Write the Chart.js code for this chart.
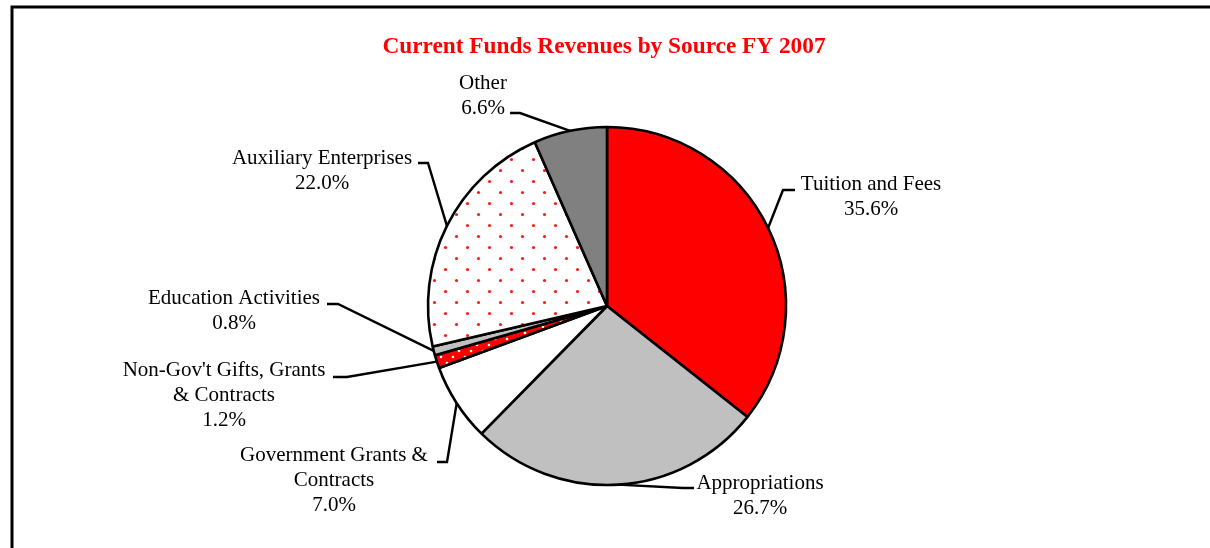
<!DOCTYPE html>
<html>
<head>
<meta charset="utf-8">
<title>Current Funds Revenues by Source FY 2007</title>
<script src="https://cdn.jsdelivr.net/npm/chart.js@4.4.0/dist/chart.umd.min.js"></script>
<style>
  html, body { margin: 0; padding: 0; background: #fff; }
  #wrap { width: 1210px; height: 548px; }
</style>
</head>
<body>
<div id="wrap"><canvas id="myChart" width="1210" height="548"></canvas></div>
<script>
const chartTitle = "Current Funds Revenues by Source FY 2007";

const sources = [
    "Tuition and Fees",
    "Appropriations",
    "Government Grants & Contracts",
    "Non-Gov't Gifts, Grants & Contracts",
    "Education Activities",
    "Auxiliary Enterprises",
    "Other",
];
const shares = [35.6, 26.7, 7.0, 1.2, 0.8, 22.0, 6.6];

// how each source name is wrapped in its label
const labelLines = [
    ["Tuition and Fees"],
    ["Appropriations"],
    ["Government Grants &", "Contracts"],
    ["Non-Gov't Gifts, Grants", "& Contracts"],
    ["Education Activities"],
    ["Auxiliary Enterprises"],
    ["Other"],
];

// where each label sits: leader elbow, leader end, text centre / first line
const labelSpots = [
    { elbow: [783, 190], end: [795, 190], x: 871, y: 184 },
    { elbow: [683, 488], end: [694, 488], x: 760, y: 483 },
    { elbow: [447, 462], end: [437, 462], x: 334, y: 455 },
    { elbow: [347, 377], end: [333, 377], x: 224, y: 370 },
    { elbow: [338, 304], end: [327, 304], x: 234, y: 298 },
    { elbow: [428, 163], end: [418, 163], x: 322, y: 158 },
    { elbow: [520, 113], end: [510, 113], x: 483, y: 83 },
];

const labelFont = '21px "Liberation Serif", "Times New Roman", serif';
const lineGap = 25;

function dotPattern(bg, dot, cell, r) {
    const c = document.createElement("canvas");
    c.width = cell;
    c.height = cell;
    const g = c.getContext("2d");
    g.fillStyle = bg;
    g.fillRect(0, 0, cell, cell);
    g.fillStyle = dot;
    [[cell / 4, cell / 4], [cell * 3 / 4, cell * 3 / 4]].forEach((p) => {
        g.beginPath();
        g.arc(p[0], p[1], r, 0, Math.PI * 2);
        g.fill();
    });
    return g.createPattern(c, "repeat");
}

const framePlugin = {
    id: "frame",
    beforeDraw(chart) {
        const ctx = chart.ctx;
        ctx.save();
        ctx.fillStyle = "#fff";
        ctx.fillRect(0, 0, chart.width, chart.height);
        ctx.strokeStyle = "#000";
        ctx.lineWidth = 3;
        ctx.strokeRect(12, 7, chart.width + 100, chart.height + 100);
        ctx.restore();
    },
};

const labelPlugin = {
    id: "sliceLabels",
    afterDatasetsDraw(chart) {
        const ctx = chart.ctx;
        const meta = chart.getDatasetMeta(0);
        ctx.save();

        // title
        ctx.font = 'bold 23.3px "Liberation Serif", "Times New Roman", serif';
        ctx.fillStyle = "#ff0000";
        ctx.textAlign = "center";
        ctx.textBaseline = "alphabetic";
        ctx.fillText(chartTitle, 604, 53);

        meta.data.forEach((arc, i) => {
            const p = arc.getProps(["x", "y", "startAngle", "endAngle", "outerRadius"], true);
            const mid = (p.startAngle + p.endAngle) / 2;
            const ax = p.x + Math.cos(mid) * p.outerRadius;
            const ay = p.y + Math.sin(mid) * p.outerRadius;
            const spot = labelSpots[i];

            ctx.strokeStyle = "#000";
            ctx.lineWidth = 2.4;
            ctx.lineJoin = "miter";
            ctx.beginPath();
            ctx.moveTo(ax, ay);
            ctx.lineTo(spot.elbow[0], spot.elbow[1]);
            ctx.lineTo(spot.end[0], spot.end[1]);
            ctx.stroke();

            const lines = labelLines[i].concat([shares[i].toFixed(1) + "%"]);
            ctx.font = labelFont;
            ctx.fillStyle = "#000";
            ctx.textAlign = "center";
            ctx.textBaseline = "middle";
            lines.forEach((t, k) => {
                ctx.fillText(t, spot.x, spot.y + k * lineGap);
            });
        });
        ctx.restore();
    },
};

function makeChart() {
    const ctx = document.getElementById("myChart").getContext("2d");

    const fills = [
        "#ff0000",
        "#c0c0c0",
        "#ffffff",
        dotPattern("#ff0000", "#ffffff", 12, 1.3),
        "#c0c0c0",
        dotPattern("#ffffff", "#ff1a1a", 22, 1.6),
        "#808080",
    ];

    const myChart = new Chart(ctx, {
        type: "pie",
        data: {
            labels: sources,
            datasets: [
                {
                    data: shares,
                    backgroundColor: fills,
                    borderColor: "#000",
                    borderWidth: 2.6,
                },
            ],
        },
        options: {
            responsive: false,
            animation: false,
            radius: 179,
            layout: {
                padding: { top: 127, bottom: 63, left: 428, right: 424 },
            },
            plugins: {
                legend: { display: false },
                tooltip: { enabled: false },
            },
        },
        plugins: [framePlugin, labelPlugin],
    });
}

makeChart();
</script>
</body>
</html>
